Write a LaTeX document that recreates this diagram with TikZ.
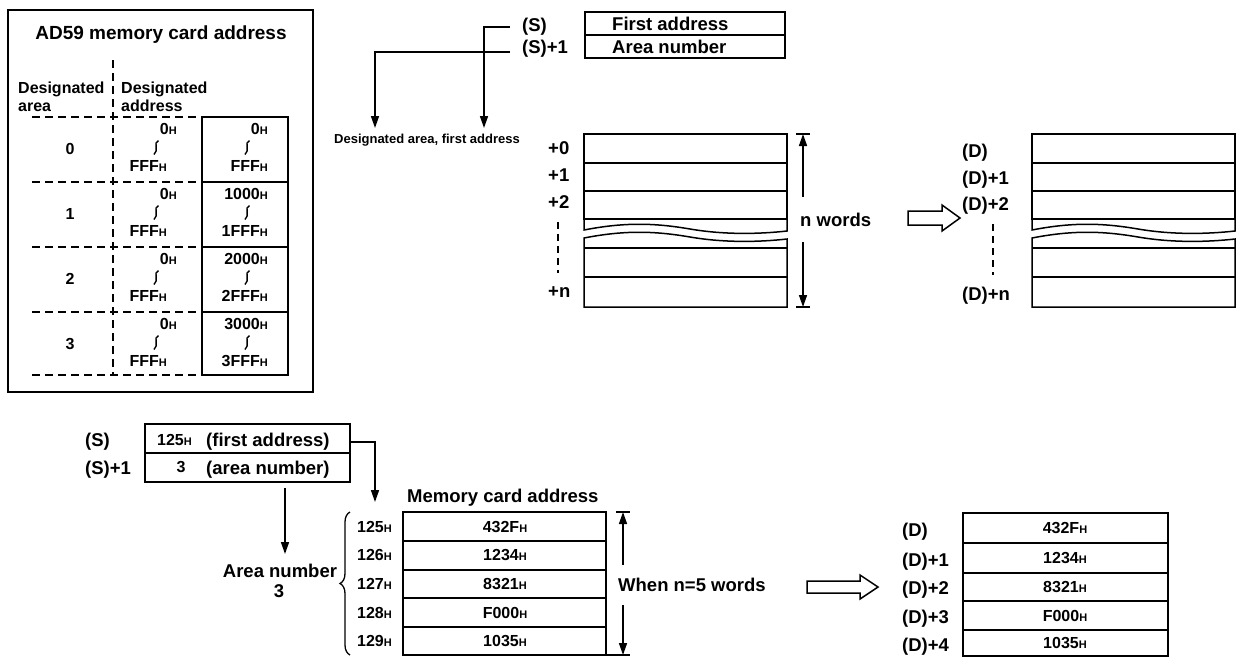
\documentclass[tikz,border=0pt]{standalone}
\usepackage{fontspec}
\setmainfont{Liberation Sans}
\usetikzlibrary{arrows.meta,decorations.pathreplacing}
\newcommand\fTitle{\bfseries\fontsize{19}{21}\selectfont}
\newcommand\fBig{\bfseries\fontsize{18.5}{20}\selectfont}
\newcommand\fMid{\bfseries\fontsize{16}{18}\selectfont}
\newcommand\fVal{\bfseries\fontsize{16}{18}\selectfont}
\newcommand\fTiny{\bfseries\fontsize{13}{15}\selectfont}
\newcommand\hh{{\fontsize{11}{11}\selectfont H}}
\begin{document}
\begin{tikzpicture}[x=1pt,y=-1pt,
  tTitle/.style={inner sep=0pt,font=\fTitle,text height=13.6pt,text depth=0pt},
  tBig/.style={inner sep=0pt,font=\fBig,text height=13.2pt,text depth=0pt},
  tMid/.style={inner sep=0pt,font=\fMid,text height=11.5pt,text depth=0pt},
  tVal/.style={inner sep=0pt,font=\fVal,text height=11.5pt,text depth=0pt},
  tTiny/.style={inner sep=0pt,font=\fTiny,text height=9.3pt,text depth=0pt},
  bx/.style={line width=1.5pt},
  arr/.style={line width=1.5pt,-{Triangle[length=12pt,width=8pt]}},
  dsh/.style={line width=1.4pt,dash pattern=on 8pt off 5pt},
  vdsh/.style={line width=1.2pt,dash pattern=on 7pt off 5pt},
  sq/.pic={\draw[line width=1.4pt] (2.5,-7) .. controls (-3.5,-5) and (3.5,3) .. (-2,7);},
  hollow/.style={line width=1.5pt,fill=white}
]
\useasboundingbox (0,0) rectangle (1238,657);

% ---------------- left box: AD59 memory card address
\draw[bx] (8,10) rectangle (313,392);
\node[tTitle] (title) at (161,33) {AD59 memory card address};
\node[tMid,anchor=west] (h1a) at (18,88) {Designated};
\node[tMid,anchor=west] (h1b) at (18,106) {area};
\node[tMid,anchor=west] (h2a) at (121,88) {Designated};
\node[tMid,anchor=west] (h2b) at (121,106) {address};
\draw[dsh] (113,60) -- (113,375);
\foreach \y in {117,182,247,312,375} \draw[dsh] (32,\y) -- (202,\y);
\draw[bx] (202,117) rectangle (288,375);
\foreach \y in {182,247,312} \draw[bx] (202,\y) -- (288,\y);
\foreach \r/\a/\b in {0/0/FFF,1/1000/1FFF,2/2000/2FFF,3/3000/3FFF}{
  \pgfmathsetmacro\yc{149.5+65*\r}
  \node[tMid] (ra\r) at (70,\yc-1) {\r};
  \node[tVal,anchor=east] (la\r) at (177,\yc-21) {0\hh};
  \pic at (156,\yc-2) {sq};
  \node[tVal,anchor=east] (lb\r) at (167,\yc+16) {FFF\hh};
  \node[tVal,anchor=east] (ma\r) at (268,\yc-21) {\a\hh};
  \pic at (247,\yc-2) {sq};
  \node[tVal,anchor=east] (mb\r) at (268,\yc+16) {\b\hh};
}

% ---------------- top middle: (S) table
\node[tBig,anchor=west] (s0) at (522,25) {(S)};
\node[tBig,anchor=west] (s1) at (522,47) {(S)+1};
\draw[bx] (585,12) rectangle (785,58);
\draw[bx] (585,35) -- (785,35);
\node[tBig,anchor=west] (fa) at (612,24) {First address};
\node[tBig,anchor=west] (an) at (612,47) {Area number};
\node[tTiny] (dafa) at (427,139) {Designated area, first address};
\coordinate (c0) at (510,27);
\coordinate (c1) at (510,52);
\coordinate (e0) at (484,128);
\coordinate (e1) at (375,128);
\draw[arr] (c0) -| (e0);
\draw[arr] (c1) -| (e1);

% ---------------- source and destination word blocks
\foreach \dx in {0,448}{
\begin{scope}[xshift=\dx pt]
  \draw[bx] (584,134) rectangle (787,219);
  \draw[bx] (584,163) -- (787,163);
  \draw[bx] (584,191) -- (787,191);
  \draw[bx] (584,219) -- (584,230) .. controls (625,222) and (655,223) .. (690,229)
        .. controls (725,235) and (760,234) .. (787,231) -- (787,219);
  \draw[bx] (584,238) .. controls (625,230) and (655,231) .. (690,237)
        .. controls (725,243) and (760,242) .. (787,239) -- (787,307) -- (584,307) -- cycle;
  \draw[bx] (584,248) -- (787,248);
  \draw[bx] (584,277) -- (787,277);
\end{scope}}
\node[tBig,anchor=west] (p0) at (548,148) {+0};
\node[tBig,anchor=west] (p1) at (548,175) {+1};
\node[tBig,anchor=west] (p2) at (548,202) {+2};
\node[tBig,anchor=west] (pn) at (548,291) {+n};
\draw[vdsh] (558,222) -- (558,273);
\node[tBig,anchor=west] (d0) at (962,151) {(D)};
\node[tBig,anchor=west] (d1) at (962,178) {(D)+1};
\node[tBig,anchor=west] (d2) at (962,204) {(D)+2};
\node[tBig,anchor=west] (dn) at (962,294) {(D)+n};
\draw[vdsh] (993,224) -- (993,275);

\node[tBig,anchor=west] (nw) at (800,220) {n words};
\draw[arr] (803,197) -- (803,134);
\draw[bx] (796,134) -- (810,134);
\draw[arr] (803,242) -- (803,307);
\draw[bx] (796,307) -- (810,307);
\draw[hollow] (908,211) -- (942,211) -- (942,205) -- (960,218) -- (942,231) -- (942,225) -- (908,225) -- cycle;

% ---------------- bottom example
\node[tBig,anchor=west] (bs0) at (85,440) {(S)};
\node[tBig,anchor=west] (bs1) at (85,468) {(S)+1};
\draw[bx] (145,424) rectangle (350,482);
\draw[bx] (145,453) -- (350,453);
\node[tVal,anchor=west] (v125) at (157,440) {125\hh};
\node[tBig,anchor=west] (vfa) at (206,440) {(first address)};
\node[tVal] (v3) at (181,467) {3};
\node[tBig,anchor=west] (van) at (206,468) {(area number)};
\coordinate (bc0) at (350,442);
\coordinate (be0) at (375,502);
\draw[arr] (bc0) -| (be0);
\coordinate (bc1) at (285,488);
\coordinate (be1) at (285,554);
\draw[arr] (bc1) -- (be1);
\node[tBig] (arn) at (280,571) {Area number};
\node[tBig] (arn3) at (279,591) {3};
\draw[line width=1.3pt,decorate,decoration={brace,amplitude=10pt}] (350,655) -- (350,512);
\node[tBig,anchor=west] (mca) at (407,496) {Memory card address};
\draw[bx] (403,512) rectangle (606,655);
\foreach \y in {541,570,598,627} \draw[bx] (403,\y) -- (606,\y);
\foreach \i/\v/\ad in {0/432F/125,1/1234/126,2/8321/127,3/F000/128,4/1035/129}{
  \pgfmathsetmacro\yc{526.5+28.6*\i}
  \node[tVal,anchor=west] (ad\i) at (357,\yc) {\ad\hh};
  \node[tVal] (sv\i) at (505,\yc) {\v\hh};
}
\node[tBig,anchor=west] (wn) at (618,585) {When n=5 words};
\draw[arr] (623,565) -- (623,512);
\draw[bx] (616,512) -- (630,512);
\draw[arr] (623,605) -- (623,655);
\draw[bx] (607,655) -- (630,655);
\draw[hollow] (807,581) -- (860,581) -- (860,575) -- (878,587) -- (860,599) -- (860,593) -- (807,593) -- cycle;
\draw[bx] (963,513) rectangle (1168,656);
\foreach \y in {543,573,601,630} \draw[bx] (963,\y) -- (1168,\y);
\foreach \i/\v/\yc in {0/432F/528,1/1234/558,2/8321/587,3/F000/615.5,4/1035/643}{
  \node[tVal] (dv\i) at (1065,\yc) {\v\hh};
}
\foreach \i/\l/\yc in {0/(D)/530,1/(D)+1/560,2/(D)+2/588,3/(D)+3/617,4/(D)+4/645}{
  \node[tBig,anchor=west] (dl\i) at (902,\yc) {\l};
}
\end{tikzpicture}
\end{document}
